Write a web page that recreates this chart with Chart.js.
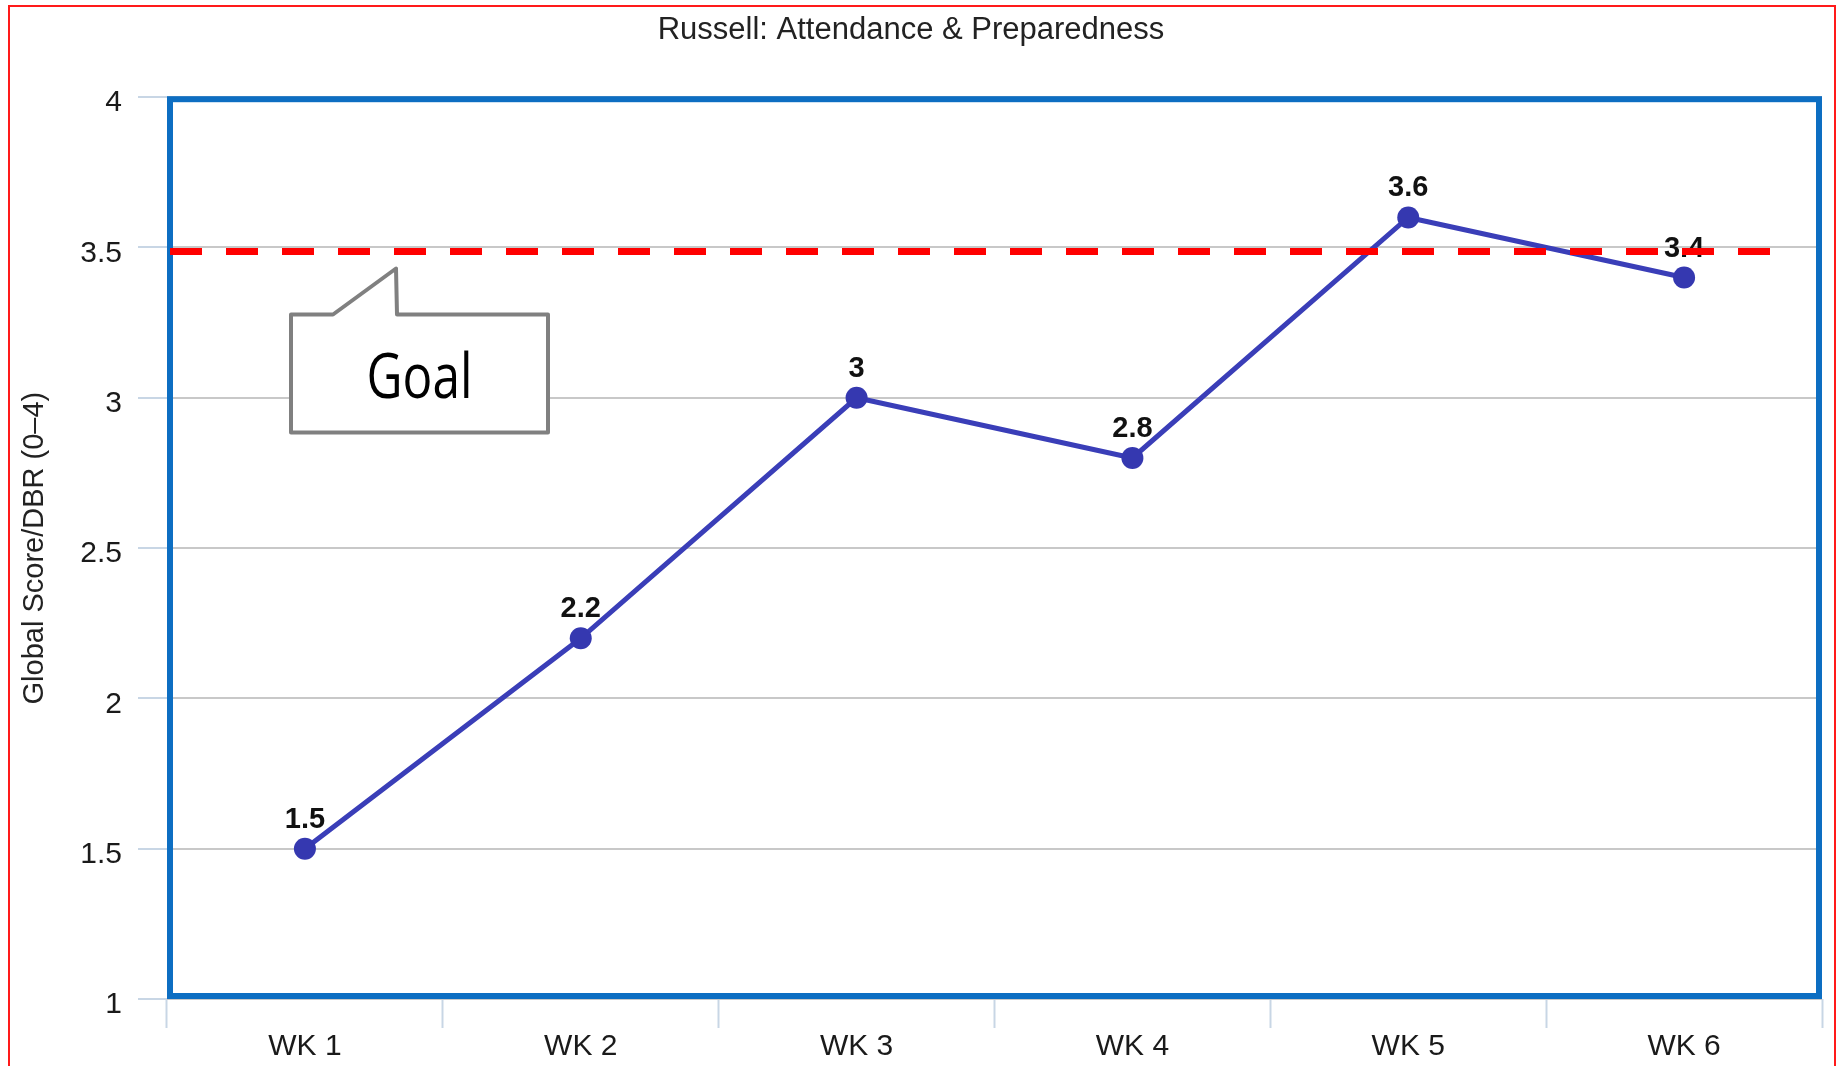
<!DOCTYPE html>
<html>
<head>
<meta charset="utf-8">
<script src="https://cdn.jsdelivr.net/npm/chart.js@4.4.1/dist/chart.umd.min.js"></script>
<style>
  html, body { margin: 0; padding: 0; background: #fff; overflow: hidden; }
  #wrap { position: relative; width: 1837px; height: 1066px; }
  #frame { position: absolute; left: 8px; top: 5px; width: 1824px; height: 1100px; border: 2px solid #ff1a1a; pointer-events: none; }
</style>
</head>
<body>
<div id="wrap">
  <canvas id="chart" width="1837" height="1066"></canvas>
  <div id="frame"></div>
</div>
<script>
// data
const weeks = ['WK 1', 'WK 2', 'WK 3', 'WK 4', 'WK 5', 'WK 6'];
const scores = [1.5, 2.2, 3, 2.8, 3.6, 3.4];
const goal = 3.5;
const yMin = 1;
const yMax = 4;
const yStep = 0.5;

const FONT = '"Liberation Sans", Arial, sans-serif';

// border box, value labels, goal line and the "Goal" callout
const decorations = {
    id: 'decorations',
    beforeDatasetsDraw(chart) {
        const { ctx, chartArea: a } = chart;
        ctx.save();
        ctx.strokeStyle = '#0d6ec2';
        ctx.lineWidth = 6;
        ctx.strokeRect(a.left + 3, a.top + 2, a.right - a.left - 6, a.bottom - a.top - 5);
        ctx.restore();
    },
    afterDatasetsDraw(chart) {
        const { ctx, chartArea: a } = chart;
        const meta = chart.getDatasetMeta(0);

        ctx.save();
        ctx.font = 'bold 29px ' + FONT;
        ctx.fillStyle = '#111';
        ctx.textAlign = 'center';
        ctx.textBaseline = 'middle';
        meta.data.forEach((pt, i) => {
            ctx.fillText(String(scores[i]), pt.x, pt.y - 29);
        });

        // callout box pointing at the goal line
        const gy = chart.scales.y.getPixelForValue(goal);
        const bx0 = a.left + 124, bx1 = a.left + 381;
        const by0 = gy + 67, by1 = gy + 185;
        ctx.beginPath();
        ctx.moveTo(bx0, by0);
        ctx.lineTo(a.left + 166, by0);
        ctx.lineTo(a.left + 229, gy + 21);
        ctx.lineTo(a.left + 230, by0);
        ctx.lineTo(bx1, by0);
        ctx.lineTo(bx1, by1);
        ctx.lineTo(bx0, by1);
        ctx.closePath();
        ctx.fillStyle = '#fff';
        ctx.fill();
        ctx.lineWidth = 4;
        ctx.lineJoin = 'round';
        ctx.strokeStyle = '#808080';
        ctx.stroke();

        // narrow "Goal" text
        ctx.fillStyle = '#000';
        ctx.font = '400 62px "Open Sans", "Liberation Sans", sans-serif';
        ctx.textBaseline = 'alphabetic';
        const w = ctx.measureText('Goal').width;
        ctx.save();
        ctx.translate((bx0 + bx1) / 2, gy + 150);
        ctx.scale(106 / w, 1);
        ctx.fillText('Goal', 0, 0);
        ctx.restore();

        // dashed goal line
        ctx.beginPath();
        ctx.setLineDash([32, 24]);
        ctx.lineWidth = 7;
        ctx.lineCap = 'butt';
        ctx.strokeStyle = '#ff0000';
        ctx.moveTo(a.left + 3, gy + 4);
        ctx.lineTo(a.right - 52, gy + 4);
        ctx.stroke();
        ctx.restore();
    }
};

new Chart(document.getElementById('chart'), {
    type: 'line',
    data: {
        labels: weeks,
        datasets: [
            {
                label: 'Score',
                data: scores,
                borderColor: '#3a3eb8',
                borderWidth: 5,
                pointRadius: 11,
                pointBackgroundColor: '#3538b0',
                pointBorderWidth: 0,
                tension: 0
            }
        ]
    },
    options: {
        responsive: false,
        animation: false,
        devicePixelRatio: 1,
        layout: { padding: { left: 0, right: 15, top: 0, bottom: 0 } },
        plugins: {
            legend: { display: false },
            tooltip: { enabled: false },
            title: {
                display: true,
                text: 'Russell: Attendance & Preparedness',
                color: '#222',
                font: { family: FONT, size: 31, weight: 'normal' },
                padding: { top: 12, bottom: 48 }
            }
        },
        scales: {
            x: {
                offset: true,
                border: { display: false },
                grid: {
                    display: true,
                    offset: true,
                    drawOnChartArea: false,
                    drawTicks: true,
                    tickLength: 29,
                    tickColor: '#c8d6e5',
                    tickWidth: 2
                },
                ticks: {
                    color: '#1a1a1a',
                    padding: 1,
                    font: { family: FONT, size: 30 }
                },
                afterFit(s) { s.height = 67; }
            },
            y: {
                min: yMin,
                max: yMax,
                border: { display: false },
                grid: {
                    color: '#c8c8c8',
                    lineWidth: 2,
                    tickLength: 29,
                    tickColor: '#c8d6e5',
                    tickWidth: 2
                },
                ticks: {
                    stepSize: yStep,
                    color: '#1a1a1a',
                    padding: 16,
                    labelOffset: 6,
                    font: { family: FONT, size: 30 },
                    callback: (v) => String(Number(v.toFixed(1)))
                },
                title: {
                    display: true,
                    text: 'Global Score/DBR (0–4)',
                    color: '#222',
                    font: { family: FONT, size: 29 },
                    padding: { top: 18, bottom: 0 }
                },
                afterFit(s) { s.width = 167; }
            }
        }
    },
    plugins: [decorations]
});
</script>
</body>
</html>
